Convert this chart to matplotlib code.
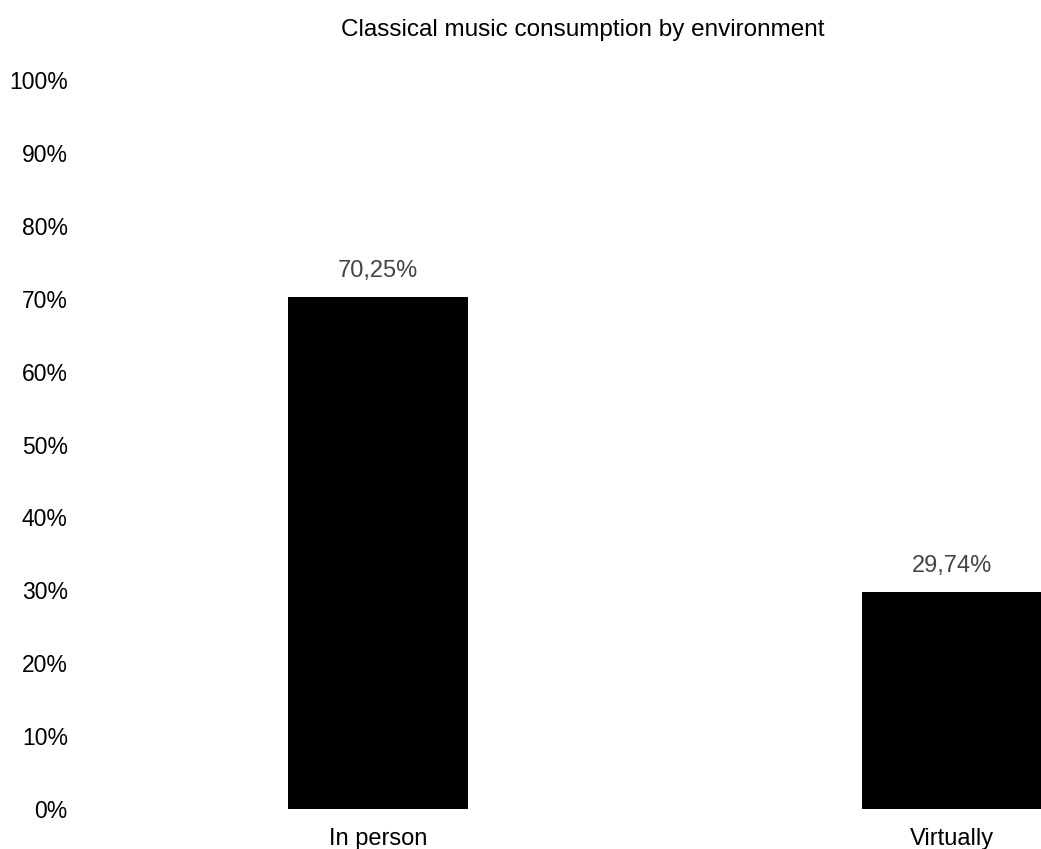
import matplotlib.pyplot as plt
from matplotlib.ticker import FuncFormatter

categories = ['In person', 'Virtually']
shares = [70.25, 29.74]
bar_labels = ['70,25%', '29,74%']
y_ticks = [0, 10, 20, 30, 40, 50, 60, 70, 80, 90, 100]

plt.rcParams['font.family'] = ['Liberation Sans', 'DejaVu Sans']

W, H = 1041, 849
fig = plt.figure(figsize=(W / 100, H / 100), dpi=100)
# axes runs past the right edge of the figure, so the second bar is clipped
ax = fig.add_axes([90 / W, (H - 809) / H, (1076 - 90) / W, (809 - 80) / H])

x = list(range(len(categories)))
ax.bar(x, shares, width=0.3136, color='black')

for xi, v, lab in zip(x, shares, bar_labels):
    ax.annotate(lab, (xi, v), xytext=(0, 14.4), textcoords='offset points',
                ha='center', va='baseline', fontsize=17, color='#444444')

ax.set_xlim((90 - 378) / 574, (1076 - 378) / 574)
ax.set_ylim(0, 100)
ax.set_yticks(y_ticks)
ax.yaxis.set_major_formatter(FuncFormatter(lambda v, p: f'{v:.0f}%'))
ax.set_xticks(x)
ax.set_xticklabels(categories)
ax.tick_params(axis='y', length=0, pad=16, labelsize=16.5)
ax.tick_params(axis='x', length=0, pad=14, labelsize=17)

for s in ax.spines.values():
    s.set_visible(False)

fig.text(583 / W, 1 - 36 / H, 'Classical music consumption by environment',
         ha='center', va='baseline', fontsize=17.5)

fig.savefig('out.png', dpi=100)
